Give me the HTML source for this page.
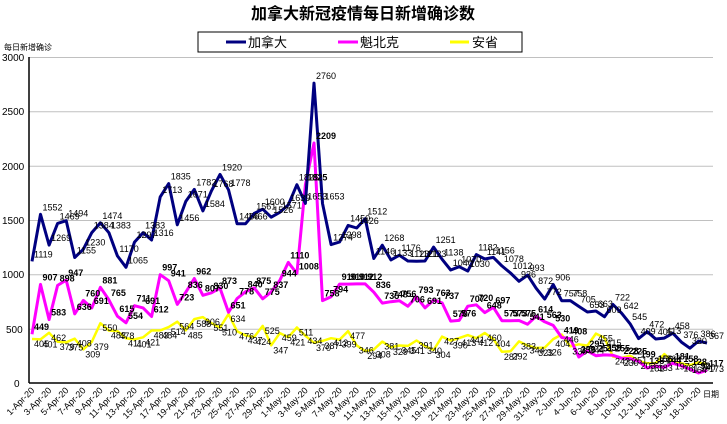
<!DOCTYPE html>
<html><head><meta charset="utf-8"><style>
body{margin:0;background:#fff;}
svg{display:block;font-family:"Liberation Sans","Noto Sans CJK SC",sans-serif;}
</style></head><body>
<svg id="c" width="727" height="424" viewBox="0 0 727 424" xmlns="http://www.w3.org/2000/svg">
<rect width="727" height="424" fill="#fff"/>
<text x="363" y="19" text-anchor="middle" font-size="16" font-weight="bold" font-family="'Noto Sans CJK SC',sans-serif">加拿大新冠疫情每日新增确诊数</text>
<rect x="198" y="32" width="324" height="20" fill="#fff" stroke="#000" stroke-width="1"/>
<line x1="226" y1="42" x2="246" y2="42" stroke="#000080" stroke-width="3"/>
<text x="248" y="47" font-size="13">加拿大</text>
<line x1="338" y1="42" x2="358" y2="42" stroke="#ff00ff" stroke-width="3"/>
<text x="360" y="47" font-size="13">魁北克</text>
<line x1="450" y1="42" x2="469" y2="42" stroke="#ffff00" stroke-width="3"/>
<text x="472" y="47" font-size="13">安省</text>
<text x="4" y="50" font-size="8">每日新增确诊</text>
<g stroke="#c0c0c0" stroke-width="1">
<line x1="29" y1="57.5" x2="713" y2="57.5"/><line x1="29" y1="111.8" x2="713" y2="111.8"/>
<line x1="29" y1="166.2" x2="713" y2="166.2"/><line x1="29" y1="220.5" x2="713" y2="220.5"/>
<line x1="29" y1="274.8" x2="713" y2="274.8"/><line x1="29" y1="329.2" x2="713" y2="329.2"/>
</g>
<g font-size="10">
<text x="2" y="61">3000</text><text x="2" y="115">2500</text><text x="2" y="170">2000</text>
<text x="2" y="224">1500</text><text x="2" y="278">1000</text><text x="6" y="333">500</text><text x="14" y="387">0</text>
</g>
<line x1="29" y1="57" x2="29" y2="383" stroke="#000" stroke-width="1.5"/>
<line x1="29" y1="383" x2="713" y2="383" stroke="#000" stroke-width="1.5"/>
<text x="703" y="397" font-size="8">日期</text>
<g id="xl" font-size="9"></g>
<g id="lines"></g>
<g id="labs" font-size="9"></g>
</svg>
<script>
var C=[1119,1552,1269,1469,1494,1155,1230,1384,1474,1383,1170,1065,1297,1383,1316,1713,1835,1456,1671,1782,1584,1768,1920,1778,1466,1466,1561,1600,1526,1571,
1639,1825,1653,2760,1653,1274,1298,1450,1426,1512,1146,1268,1133,1176,1123,1121,1123,1251,1138,1040,1070,1030,1182,1141,1156,1078,1012,936,993,872,772,
906,757,758,705,653,663,609,722,642,545,409,472,405,413,458,376,320,386,367];
var Q=[449,907,583,898,947,636,760,691,881,765,615,554,711,691,612,997,941,723,836,962,807,830,873,651,778,840,875,775,837,944,
1110,1008,1825,2209,758,794,910,910,912,912,836,735,748,756,706,793,691,763,737,570,576,707,720,648,697,573,573,575,541,614,563,
530,419,408,239,295,251,259,255,228,225,199,138,156,144,181,158,128,92,117];
var O=[405,401,462,379,375,408,309,379,550,483,478,411,401,421,483,484,514,564,485,588,606,551,510,634,476,437,424,525,347,459,
421,511,434,370,387,412,399,477,346,294,308,381,329,345,341,391,340,304,427,390,413,441,412,460,404,287,292,383,344,323,326,
404,446,338,356,344,455,415,243,230,251,203,181,183,266,197,181,164,190,173];
var NS="http://www.w3.org/2000/svg";
function X(i){return 32+i*(707-32)/79;}
function Y(v){return 383-v*326/3000;}
function el(t,a,p){var e=document.createElementNS(NS,t);for(var k in a)e.setAttribute(k,a[k]);p.appendChild(e);return e;}
var L=document.getElementById('lines'),B=document.getElementById('labs'),XL=document.getElementById('xl');
[[O,'#ffff00',2.5],[Q,'#ff00ff',3],[C,'#000080',3]].forEach(function(s){
 var d=s[0].map(function(v,i){return (i?'L':'M')+X(i).toFixed(1)+' '+Y(v).toFixed(1);}).join(' ');
 el('path',{d:d,fill:'none',stroke:s[1],'stroke-width':s[2],'stroke-linejoin':'round'},L);
});
[[C,-4,'normal'],[Q,-4,'bold'],[O,8,'normal']].forEach(function(s){
 s[0].forEach(function(v,i){var t=el('text',{x:(X(i)+2).toFixed(1),y:(Y(v)+s[1]).toFixed(1),'font-weight':s[2]},B);t.textContent=v;});
});
var mon=['Apr','May','Jun'],days=[30,31,19];
var idx=0;
for(var m=0;m<3;m++)for(var d=1;d<=days[m];d++){
 if(idx%2==0){var x=X(idx)+3,y=391;var t=el('text',{x:x,y:y,'text-anchor':'end',transform:'rotate(-45 '+x+' '+y+')'},XL);t.textContent=d+'-'+mon[m]+'-20';}
 idx++;
}
</script>
</body></html>
